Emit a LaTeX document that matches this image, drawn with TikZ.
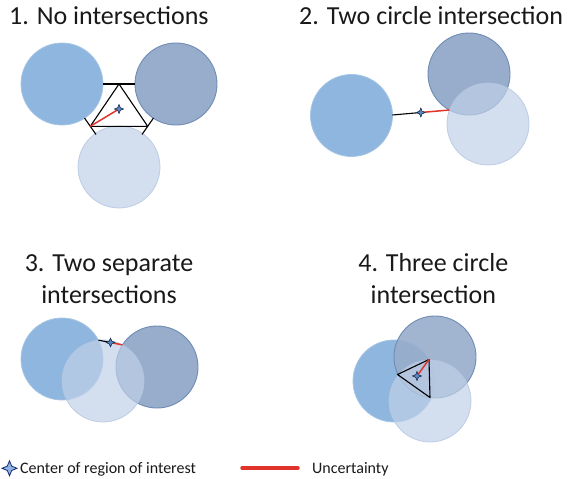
\documentclass[tikz,border=0pt]{standalone}
\usepackage{fontspec}
\setmainfont{Carlito}
\usetikzlibrary{shapes.geometric}
\definecolor{cmid}{HTML}{8EB6DF}
\definecolor{cdark}{HTML}{97ADCB}
\definecolor{cdarkline}{HTML}{6F8CB3}
\definecolor{clight}{HTML}{C0D0E8}
\definecolor{clightline}{HTML}{B4C6E0}
\definecolor{uncred}{HTML}{E0342B}
\definecolor{starfill}{HTML}{5B8AC6}
\definecolor{starline}{HTML}{1F2F4F}
\definecolor{legstar}{HTML}{8DB3E2}
\begin{document}
\begin{tikzpicture}[x=1pt,y=-1pt,
  midcircle/.style={fill=cmid, draw=cmid!80!white, line width=0.8pt},
  darkcircle/.style={fill=cdark, draw=cdarkline, line width=0.9pt},
  lightcircle/.style={fill=clight, fill opacity=0.7, draw=clightline, draw opacity=0.8, line width=0.8pt},
  gapline/.style={draw=black, line width=1.1pt},
  uncline/.style={draw=uncred, line width=1.5pt},
  roistar/.style={star, star points=4, star point ratio=2.4, minimum size=8.5pt, inner sep=0pt, fill=starfill, draw=starline, line width=0.5pt},
  title/.style={font=\fontsize{26}{31.6}\selectfont, text=black!90, align=center, inner sep=0pt},
  legendtext/.style={font=\fontsize{16}{19}\selectfont, text=black!90, anchor=base west, inner sep=0pt}
]
\useasboundingbox (0,0) rectangle (574,479);

% titles
\node[title, anchor=base west] (t1) at (9,24.3) {1. No intersections};
\node[title, anchor=base west] (t2) at (299,24) {2. Two circle intersection};
\node[title, anchor=base] (t3) at (109,303.3) {3. Two separate\\intersections};
\node[title, anchor=base] (t4) at (433.3,303.3) {4. Three circle\\intersection};

% ---------- panel 1 ----------
\coordinate (A1) at (62,84);
\coordinate (B1) at (176,84);
\coordinate (C1) at (119,167);
\fill[midcircle] (A1) circle[radius=41pt];
\fill[darkcircle] (B1) circle[radius=41pt];
\fill[lightcircle] (C1) circle[radius=41pt];
\coordinate (gab1) at (103,84);
\coordinate (gab2) at (135,84);
\coordinate (gac1) at (84.5,118);
\coordinate (gac2) at (96,134.5);
\coordinate (gbc1) at (153.5,118);
\coordinate (gbc2) at (142,134.5);
\coordinate (p1) at (119,84);
\coordinate (p2) at (90.3,126.3);
\coordinate (p3) at (147.7,126.3);
\draw[gapline] (gab1) -- (gab2);
\draw[gapline] (gac1) -- (gac2);
\draw[gapline] (gbc1) -- (gbc2);
\draw[gapline, line join=round] (p1) -- (p2) -- (p3) -- cycle;
\node[roistar] (s1) at (119,109) {};
\draw[uncline] (s1.center) -- (p2);
\node[roistar] at (s1) {};

% ---------- panel 2 ----------
\coordinate (A2) at (351.5,115.5);
\coordinate (B2) at (469,74);
\coordinate (C2) at (488,124);
\fill[midcircle] (A2) circle[radius=41pt];
\fill[darkcircle] (B2) circle[radius=41pt];
\fill[lightcircle] (C2) circle[radius=41pt];
\coordinate (e2) at (392.3,115);
\coordinate (x2) at (449.4,110);
\node[roistar] (s2) at (420.8,112.5) {};
\draw[gapline] (e2) -- (s2.center);
\draw[uncline] (s2.center) -- (x2);
\node[roistar] at (s2) {};

% ---------- panel 3 ----------
\coordinate (A3) at (62,359);
\coordinate (C3) at (103,381);
\coordinate (B3) at (157,367);
\fill[midcircle] (A3) circle[radius=41pt];
\fill[darkcircle] (B3) circle[radius=41pt];
\fill[lightcircle] (C3) circle[radius=41pt];
\coordinate (x3a) at (98.5,340.2);
\coordinate (x3b) at (122.5,344.9);
\node[roistar] (s3) at (110.5,342.5) {};
\draw[gapline] (x3a) -- (s3.center);
\draw[uncline] (s3.center) -- (x3b);
\node[roistar] at (s3) {};

% ---------- panel 4 ----------
\coordinate (A4) at (394,381);
\coordinate (B4) at (435,357);
\coordinate (C4) at (430,401);
\fill[midcircle] (A4) circle[radius=41pt];
\fill[darkcircle, fill opacity=0.9] (B4) circle[radius=41pt];
\fill[lightcircle] (C4) circle[radius=41pt];
\coordinate (v1) at (429,359.5);
\coordinate (v2) at (397.5,374.5);
\coordinate (v3) at (430,397.5);
\draw[gapline, line join=round] (v1) -- (v2) -- (v3) -- cycle;
\node[roistar] (s4) at (417,376) {};
\draw[uncline] (s4.center) -- (v1);
\node[roistar] at (s4) {};

% ---------- legend ----------
\node[roistar, minimum size=15pt, fill=legstar, draw=starline!80!blue, line width=0.8pt] (ls) at (9.5,468.3) {};
\node[legendtext] (lt1) at (20,473) {Center of region of interest};
\coordinate (lr1) at (242,468);
\coordinate (lr2) at (298,468);
\draw[uncred, line width=3.5pt, line cap=round] (lr1) -- (lr2);
\node[legendtext] (lt2) at (312,473) {Uncertainty};
\end{tikzpicture}
\end{document}
